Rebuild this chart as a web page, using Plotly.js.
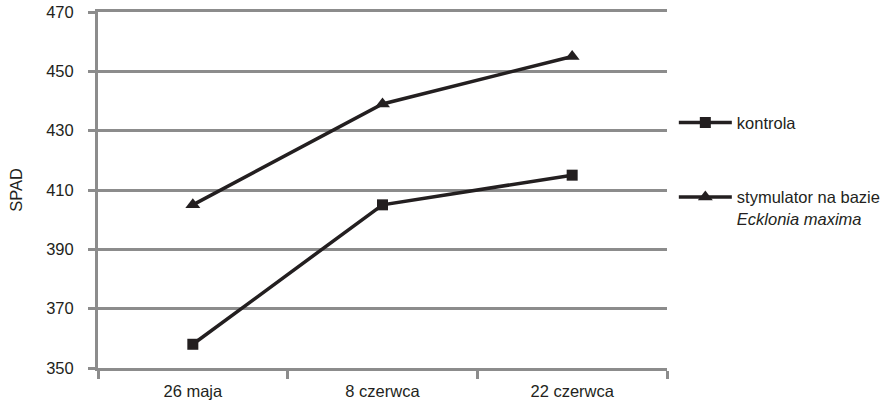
<!DOCTYPE html>
<html>
<head>
<meta charset="utf-8">
<script src="https://cdn.plot.ly/plotly-3.0.1.min.js"></script>
<style>
  html, body { margin: 0; padding: 0; background: #ffffff; }
  #chart { width: 891px; height: 407px; }
</style>
</head>
<body>
<div id="chart"></div>
<script>
// Measurement dates (categories on the x axis)
const dates = ['26 maja', '8 czerwca', '22 czerwca'];

// SPAD readings per treatment
const kontrola = [358, 405, 415];
const stymulator = [405, 439, 455];

// Series names shown in the legend
const nameKontrola = 'kontrola';
const nameStymulator = 'stymulator na bazie<br><i>Ecklonia maxima</i>';

// Y axis tick values
const yTicks = [350, 370, 390, 410, 430, 450, 470];

const ink = '#231f20';
const grid = '#8c8c8c';
const fs = 16.5;

const traces = [
  {
    x: dates, y: kontrola, name: nameKontrola, type: 'scatter', mode: 'lines+markers',
    legendgroup: 'a',
    line: { color: ink, width: 3.5 },
    marker: { symbol: 'square', size: 11, color: ink }
  },
  {
    x: dates, y: stymulator, name: nameStymulator, type: 'scatter', mode: 'lines+markers',
    legendgroup: 'b',
    line: { color: ink, width: 3.5 },
    marker: { symbol: 'triangle-up', size: 13, color: ink }
  }
];

const layout = {
  width: 891, height: 407,
  margin: { l: 98, r: 224, t: 12, b: 39, autoexpand: false },
  paper_bgcolor: '#ffffff', plot_bgcolor: '#ffffff',
  font: { family: 'Liberation Sans, Arial, sans-serif', size: fs, color: ink },
  showlegend: true,
  legend: {
    x: 1.012, y: 0.738, xanchor: 'left', yanchor: 'top',
    traceorder: 'grouped', tracegroupgap: 50, valign: 'top',
    itemwidth: 53,
    font: { size: fs, color: ink }, bgcolor: 'rgba(0,0,0,0)'
  },
  xaxis: {
    type: 'category', range: [-0.5, 2.5],
    showgrid: false, zeroline: false,
    showline: true, mirror: true, linecolor: grid, linewidth: 3,
    ticks: 'outside', tickson: 'boundaries', ticklen: 8, tickwidth: 3, tickcolor: grid,
    ticklabelstandoff: 6,
    tickfont: { size: fs, color: ink }, fixedrange: true
  },
  yaxis: {
    range: [350, 470], tickvals: yTicks, ticktext: yTicks.map(String),
    showgrid: true, gridcolor: grid, gridwidth: 3,
    zeroline: false, showline: true, linecolor: grid, linewidth: 3,
    ticks: 'outside', ticklen: 7, tickwidth: 3, tickcolor: grid,
    ticklabelstandoff: 11,
    tickfont: { size: fs, color: ink },
    title: { text: 'SPAD', font: { size: fs, color: ink }, standoff: 20 },
    fixedrange: true
  }
};

Plotly.newPlot('chart', traces, layout, { displayModeBar: false, staticPlot: true });
</script>
</body>
</html>
